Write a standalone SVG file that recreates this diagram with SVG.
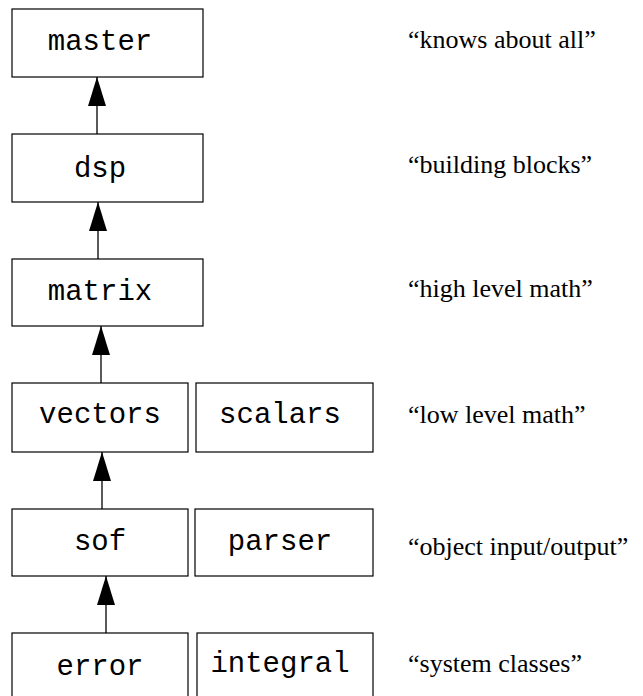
<svg xmlns="http://www.w3.org/2000/svg" width="643" height="696" viewBox="0 0 643 696">
<style>
.box{fill:#fff;stroke:#000;stroke-width:1.2}
.mono{font-family:"Liberation Mono","Courier New",monospace;font-size:29px;fill:#000;text-anchor:middle}
.lbl{font-family:"Liberation Serif","Times New Roman",serif;font-size:26px;fill:#000}
.conn{stroke:#000;stroke-width:1.3;fill:none}
</style>
<defs>
<marker id="ah" viewBox="0 0 29 18" refX="29" refY="9" markerWidth="29" markerHeight="18" orient="auto" markerUnits="userSpaceOnUse">
<path d="M0,0 L29,9 L0,18 z" fill="#000"/>
</marker>
</defs>
<rect width="643" height="696" fill="#fff"/>
<g id="connectors">
<line class="conn" x1="97" y1="134" x2="97" y2="77" marker-end="url(#ah)"/>
<line class="conn" x1="98" y1="259" x2="98" y2="202" marker-end="url(#ah)"/>
<line class="conn" x1="101" y1="383" x2="101" y2="326" marker-end="url(#ah)"/>
<line class="conn" x1="102" y1="509" x2="102" y2="452" marker-end="url(#ah)"/>
<line class="conn" x1="106" y1="633" x2="106" y2="576" marker-end="url(#ah)"/>
</g>
<g id="master"><rect class="box" x="12" y="9" width="191" height="68"/><text class="mono" x="100" y="50">master</text></g>
<g id="dsp"><rect class="box" x="12" y="134" width="191" height="68"/><text class="mono" x="100" y="177">dsp</text></g>
<g id="matrix"><rect class="box" x="12" y="259" width="191" height="67"/><text class="mono" x="100" y="300">matrix</text></g>
<g id="vectors"><rect class="box" x="12" y="383" width="176" height="69"/><text class="mono" x="100" y="423">vectors</text></g>
<g id="scalars"><rect class="box" x="196" y="383" width="177" height="69"/><text class="mono" x="280" y="423">scalars</text></g>
<g id="sof"><rect class="box" x="12" y="509" width="176" height="67"/><text class="mono" x="100" y="550">sof</text></g>
<g id="parser"><rect class="box" x="195" y="509" width="178" height="67"/><text class="mono" x="280" y="550">parser</text></g>
<g id="error"><rect class="box" x="12" y="633" width="176" height="80"/><text class="mono" x="100" y="675">error</text></g>
<g id="integral"><rect class="box" x="197" y="633" width="176" height="80"/><text class="mono" x="280" y="672">integral</text></g>
<g id="labels">
<text class="lbl" x="408" y="48">“knows about all”</text>
<text class="lbl" x="408" y="173">“building blocks”</text>
<text class="lbl" x="408" y="297">“high level math”</text>
<text class="lbl" x="408" y="423">“low level math”</text>
<text class="lbl" x="408" y="555">“object input/output”</text>
<text class="lbl" x="408" y="672">“system classes”</text>
</g>
</svg>
